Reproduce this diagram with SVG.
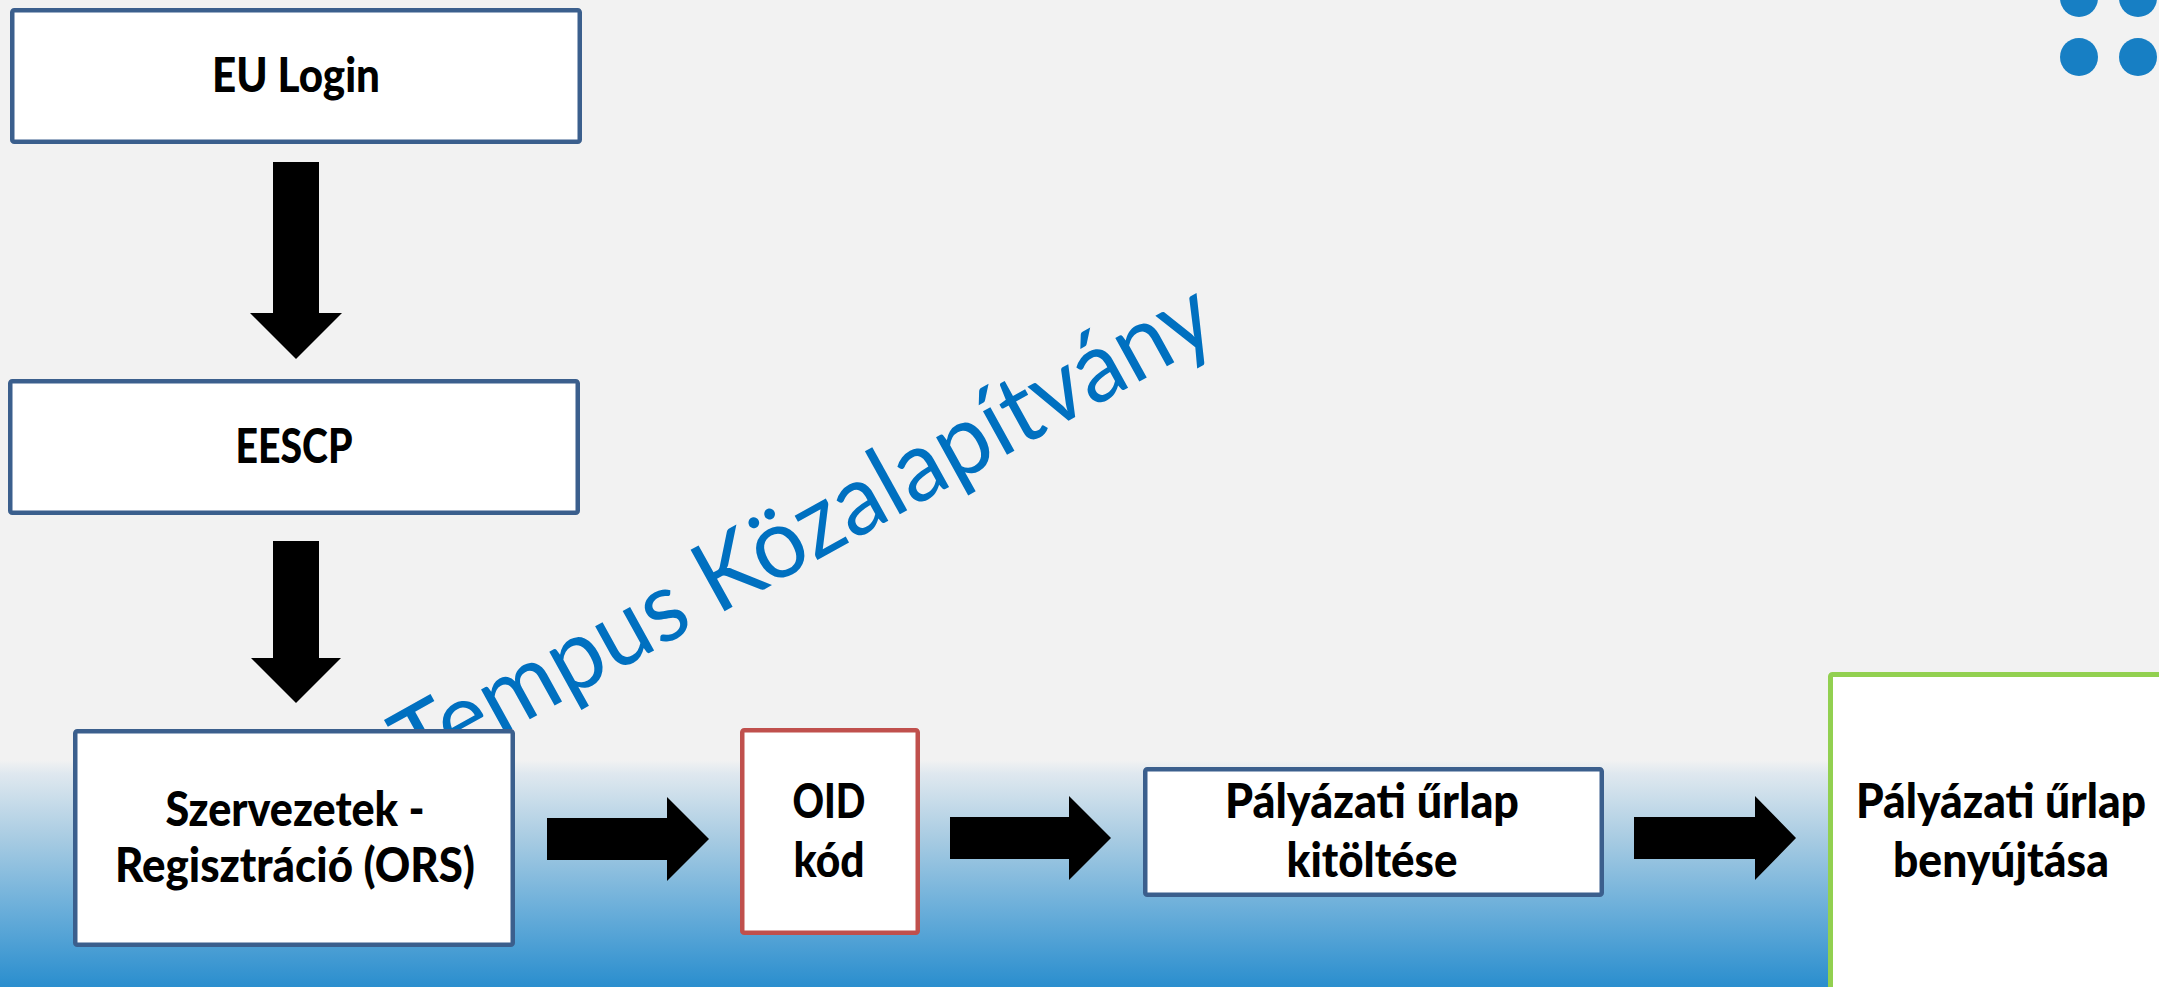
<svg xmlns="http://www.w3.org/2000/svg" width="2159" height="987" viewBox="0 0 2159 987">
<defs>
<linearGradient id="bg" x1="0" y1="0" x2="0" y2="1">
<stop offset="0" stop-color="#F2F2F2"/>
<stop offset="0.06" stop-color="#DFE8EF"/>
<stop offset="0.35" stop-color="#A7CBE2"/>
<stop offset="0.65" stop-color="#6CAFDA"/>
<stop offset="1" stop-color="#2A8ECE"/>
</linearGradient>
<style>
.box{fill:#FFFFFF;stroke:#3B5F8D;stroke-width:4.5}
.red{stroke:#C0504D}
.green{stroke:#92D050;stroke-width:5}
.lbl{font-family:Lato,"Open Sans","Liberation Sans",sans-serif;font-weight:900;font-size:47px;fill:#000000;text-anchor:middle}
.arrow{fill:#000000}
.wm{font-family:Lato,"Open Sans","Liberation Sans",sans-serif;font-size:98px;fill:#0070C0;text-anchor:middle}
.dot{fill:#177FC4}
</style>
</defs>
<rect x="0" y="0" width="2159" height="987" fill="#F2F2F2"/>
<rect x="0" y="760" width="2159" height="227" fill="url(#bg)"/>
<g id="decor">
<circle class="dot" cx="2079" cy="-2" r="19"/>
<circle class="dot" cx="2138" cy="-2" r="19"/>
<circle class="dot" cx="2079" cy="57" r="19"/>
<circle class="dot" cx="2138" cy="57" r="19"/>
</g>
<g id="watermark">
<text class="wm" x="819" y="559" transform="rotate(-29 819 559)" textLength="920" lengthAdjust="spacingAndGlyphs">Tempus Közalapítvány</text>
</g>
<g id="connectors">
<polygon class="arrow" points="273,162 319,162 319,313 342,313 296,359 250,313 273,313"/>
<polygon class="arrow" points="273,541 319,541 319,658 341,658 296,703 251,658 273,658"/>
<polygon class="arrow" points="547,818 667,818 667,797 709,839 667,881 667,860 547,860"/>
<polygon class="arrow" points="950,817 1069,817 1069,796 1111,838 1069,880 1069,859 950,859"/>
<polygon class="arrow" points="1634,817 1755,817 1755,796 1796,838 1755,880 1755,859 1634,859"/>
</g>
<g id="node-eulogin">
<rect class="box" x="12.25" y="10.25" width="567.5" height="131.5" rx="2"/>
<text class="lbl" x="296" y="92" textLength="168" lengthAdjust="spacingAndGlyphs">EU Login</text>
</g>
<g id="node-eescp">
<rect class="box" x="10.25" y="381.25" width="567.5" height="131.5" rx="2"/>
<text class="lbl" x="294" y="463" textLength="117" lengthAdjust="spacingAndGlyphs">EESCP</text>
</g>
<g id="node-ors">
<rect class="box" x="75.25" y="731.25" width="437.5" height="213.5" rx="2"/>
<text class="lbl" x="295" y="826" textLength="259" lengthAdjust="spacingAndGlyphs">Szervezetek -</text>
<text class="lbl" x="295" y="882" textLength="360" lengthAdjust="spacingAndGlyphs">Regisztráció (ORS)</text>
</g>
<g id="node-oid">
<rect class="box red" x="742.25" y="730.25" width="175.5" height="202.5" rx="2"/>
<text class="lbl" x="829" y="818" textLength="73" lengthAdjust="spacingAndGlyphs">OID</text>
<text class="lbl" x="829" y="877" textLength="71" lengthAdjust="spacingAndGlyphs">kód</text>
</g>
<g id="node-kitoltes">
<rect class="box" x="1145.25" y="769.25" width="456.5" height="125.5" rx="2"/>
<text class="lbl" x="1372" y="818" textLength="294" lengthAdjust="spacingAndGlyphs">Pályázati űrlap</text>
<text class="lbl" x="1372" y="877" textLength="171" lengthAdjust="spacingAndGlyphs">kitöltése</text>
</g>
<g id="node-benyujtas">
<rect class="box green" x="1830.5" y="674.5" width="400" height="400" rx="2"/>
<text class="lbl" x="2001" y="818" textLength="290" lengthAdjust="spacingAndGlyphs">Pályázati űrlap</text>
<text class="lbl" x="2001" y="877" textLength="216" lengthAdjust="spacingAndGlyphs">benyújtása</text>
</g>
</svg>
